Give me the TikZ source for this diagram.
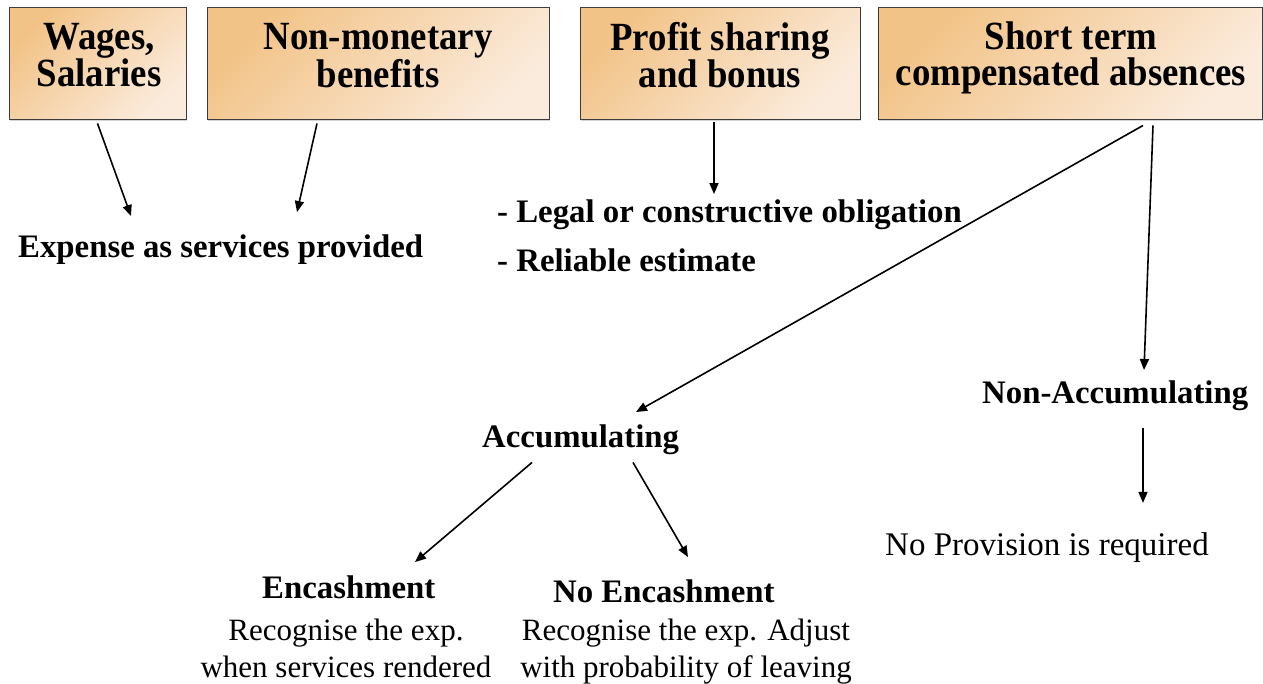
\documentclass[tikz,border=0pt]{standalone}
\usepackage{fontspec}
\setmainfont{Liberation Serif}
\newfontfamily\boxfont[FakeStretch=0.92]{Liberation Serif}
\usetikzlibrary{arrows.meta,shadows}
\definecolor{boxtan}{HTML}{F2C387}
\definecolor{boxcream}{HTML}{FBEBDC}
\definecolor{boxedge}{HTML}{3C3C3C}

\begin{document}
\begin{tikzpicture}[x=1pt, y=-1pt,
  catbox/.style={draw=boxedge, line width=1pt, left color=boxtan, right color=boxcream,
    shading angle=45, minimum height=112pt, inner sep=0pt,
    drop shadow={shadow xshift=1.2pt, shadow yshift=-1.2pt, opacity=0.35}},
  boxtext/.style={anchor=north, align=center, inner sep=0pt, font=\boxfont\fontsize{40}{36}\selectfont\bfseries},
  headtext/.style={anchor=base west, inner sep=0pt, font=\fontsize{32.8}{38}\selectfont\bfseries},
  plaintext/.style={anchor=north, align=center, inner sep=0pt, font=\fontsize{31}{37}\selectfont},
  arr/.style={-{Triangle[length=11pt,width=9pt]}, line width=1.6pt}]

  \useasboundingbox (0,0) rectangle (1263,684);

  \node[catbox, minimum width=177pt] (wages) at (97.5,64) {};
  \node[catbox, minimum width=342pt] (nonmon) at (378,64) {};
  \node[catbox, minimum width=280pt] (profit) at (720,64) {};
  \node[catbox, minimum width=384pt] (short) at (1070,64) {};

  \node[boxtext] (wagestxt) at (99,23) {Wages,\\Salaries};
  \node[boxtext] (nonmontxt) at (378,23) {Non-monetary\\benefits};
  \node[boxtext] (profittxt) at (720,22) {Profit sharing\\and bonus};
  \node[boxtext] (shorttxt) at (1071,22) {Short term\\compensated absences};

  \node[headtext] (expense) at (18,258) {Expense as services provided};
  \node[headtext] (legal) at (497,223) {- Legal or constructive obligation};
  \node[headtext] (reliable) at (497,272) {- Reliable estimate};
  \node[headtext] (acc) at (482,447) {Accumulating};
  \node[headtext] (nonacc) at (982,403) {Non-Accumulating};
  \node[headtext] (enc) at (262,598) {Encashment};
  \node[headtext] (noenc) at (553,602) {No Encashment};

  \node[plaintext] (encdesc) at (346,619) {Recognise the exp.\\when services rendered};
  \node[plaintext] (noencdesc) at (686,619) {Recognise the exp. Adjust\\with probability of leaving};
  \node[plaintext, anchor=base west, font=\fontsize{33}{37}\selectfont] (noprov) at (885,555) {No Provision is required};

  \draw[arr] ([yshift=-3pt]wages.south) -- ([xshift=113pt,yshift=19pt]expense.north west);
  \draw[arr] ([xshift=-61pt,yshift=-3pt]nonmon.south) -- ([xshift=279pt,yshift=23pt]expense.north west);
  \draw[arr] ([xshift=-6pt,yshift=-2pt]profit.south) -- ([xshift=217pt,yshift=6pt]legal.north west);
  \draw[arr] ([xshift=73pt,yshift=-5pt]short.south) -- ([xshift=154pt,yshift=12pt]acc.north west);
  \draw[arr] ([xshift=83pt,yshift=-5pt]short.south) -- ([xshift=162pt,yshift=10pt]nonacc.north west);
  \draw[arr] ([xshift=161pt,yshift=-18pt]nonacc.south west) -- ([xshift=258pt,yshift=29pt]noprov.north west);
  \draw[arr] ([xshift=50pt,yshift=-8pt]acc.south west) -- ([xshift=153pt,yshift=13pt]enc.north west);
  \draw[arr] ([xshift=151pt,yshift=-8pt]acc.south west) -- ([xshift=135pt,yshift=22pt]noenc.north west);

\end{tikzpicture}
\end{document}
